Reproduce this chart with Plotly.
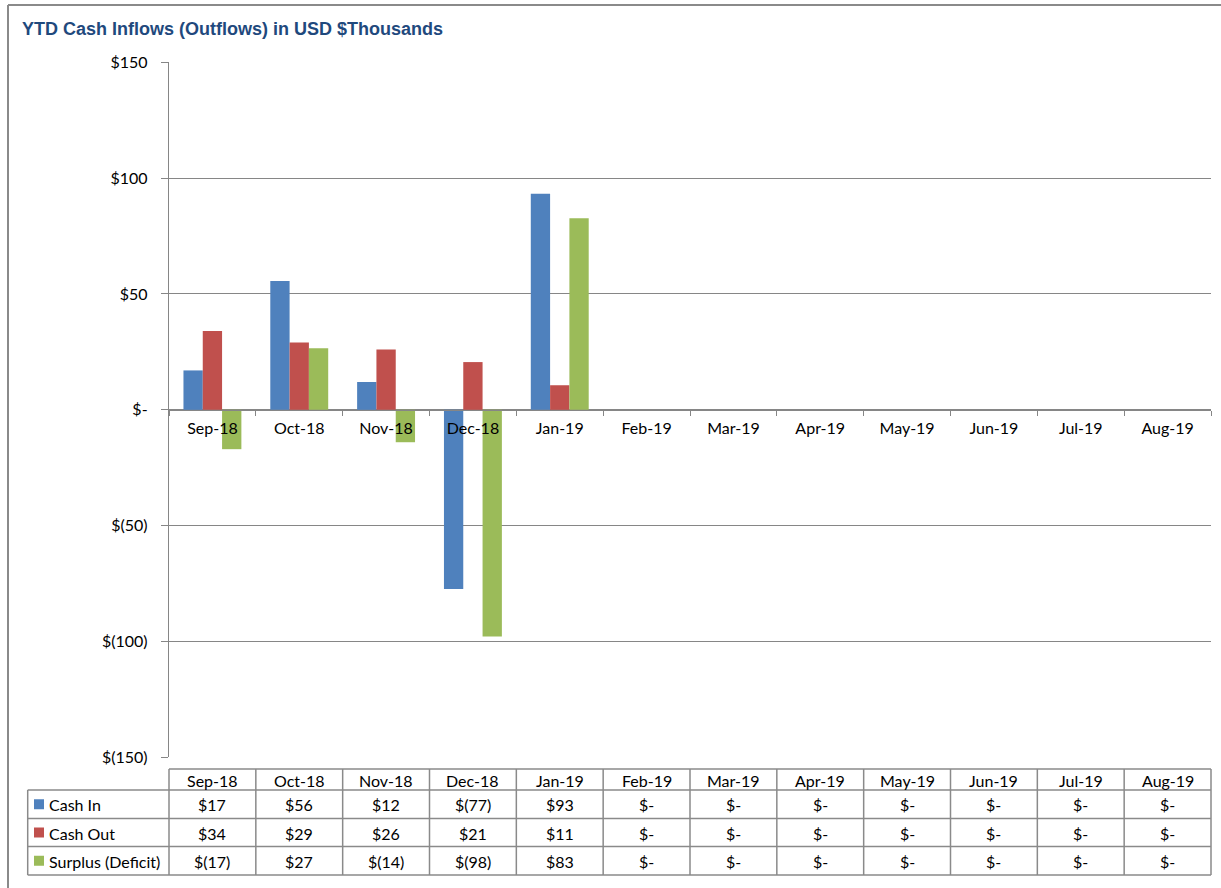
import plotly.graph_objects as go

# ---------------- data ----------------
categories = ["Sep-18", "Oct-18", "Nov-18", "Dec-18", "Jan-19", "Feb-19",
              "Mar-19", "Apr-19", "May-19", "Jun-19", "Jul-19", "Aug-19"]
cash_in = [17, 55.6, 12, -77.3, 93.3, 0, 0, 0, 0, 0, 0, 0]
cash_out = [34, 29, 26, 20.6, 10.6, 0, 0, 0, 0, 0, 0, 0]
surplus = [-17, 26.6, -14, -97.9, 82.7, 0, 0, 0, 0, 0, 0, 0]
series_names = ["Cash In", "Cash Out", "Surplus (Deficit)"]
series_colors = ["#4F81BD", "#C0504D", "#9BBB59"]
y_ticks = [150, 100, 50, 0, -50, -100, -150]
title = "YTD Cash Inflows (Outflows) in USD $Thousands"

W, H = 1221, 888


def px(x):
    return x / W


def py(y):
    return 1 - y / H


def fmt(v):
    r = int(round(v))
    if r == 0:
        return "$-"
    if r < 0:
        return f"$({-r})"
    return f"${r}"


FONT = "Lato"
GRID = "#868686"
BORDER = "#8a8a8a"

plot_left, plot_right = 169, 1211
plot_top, plot_bottom = 62.3, 757.3
zero_y = (plot_top + plot_bottom) / 2

fig = go.Figure()
series = [cash_in, cash_out, surplus]
for name, vals, color in zip(series_names, series, series_colors):
    fig.add_bar(x=categories, y=vals, name=name, marker_color=color,
                marker_line_width=0)

fig.update_layout(
    width=W, height=H,
    margin=dict(l=0, r=0, t=0, b=0, autoexpand=False),
    paper_bgcolor="white", plot_bgcolor="white",
    showlegend=False,
    barmode="group", bargap=0.333, bargroupgap=0,
    font=dict(family=FONT, size=16, color="#000000"),
    xaxis=dict(
        domain=[px(plot_left), px(plot_right)],
        type="category",
        tickson="boundaries",
        ticks="outside", ticklen=5, tickcolor=GRID, tickwidth=1.3,
        showline=True, linecolor=GRID, linewidth=1.3,
        anchor="free", position=py(zero_y),
        showgrid=False, zeroline=False, automargin=False,
        tickfont=dict(family=FONT, size=16, color="#000000"),
        ticklabelstandoff=4,
    ),
    yaxis=dict(
        domain=[py(plot_bottom), py(plot_top)],
        range=[-150, 150],
        tickvals=y_ticks,
        ticktext=[fmt(v) for v in y_ticks],
        showgrid=True, gridcolor=GRID, gridwidth=1.4,
        zeroline=False, automargin=False,
        showline=True, linecolor=GRID, linewidth=1.4,
        ticks="outside", ticklen=7, tickcolor=GRID, tickwidth=1.4,
        tickfont=dict(family=FONT, size=16, color="#000000"),
        ticklabelstandoff=10,
    ),
)

shapes = []
annotations = []

# chart frame (left and top edges)
shapes.append(dict(type="line", xref="paper", yref="paper",
                   x0=px(8), x1=px(W + 5), y0=py(5), y1=py(5),
                   line=dict(color=BORDER, width=2)))
shapes.append(dict(type="line", xref="paper", yref="paper",
                   x0=px(8), x1=px(8), y0=py(5), y1=py(H + 5),
                   line=dict(color=BORDER, width=2)))

# title
annotations.append(dict(text=title, xref="paper", yref="paper",
                        x=px(20), y=py(29), xanchor="left", yanchor="middle",
                        showarrow=False,
                        font=dict(family="Liberation Sans", size=18,
                                  color="#1F497D", weight="bold")))

# ---------------- data table ----------------
n = len(categories)
col_w = (plot_right - plot_left) / n
col_edges = [plot_left + i * col_w for i in range(n + 1)]
head_top, row_lines = 769, [790, 818.5, 846.5, 875]
table_left = 27.7
tline = dict(color=BORDER, width=1.5)

shapes.append(dict(type="line", xref="paper", yref="paper",
                   x0=px(plot_left), x1=px(plot_right),
                   y0=py(head_top), y1=py(head_top), line=tline))
for yl in row_lines:
    shapes.append(dict(type="line", xref="paper", yref="paper",
                       x0=px(table_left), x1=px(plot_right),
                       y0=py(yl), y1=py(yl), line=tline))
shapes.append(dict(type="line", xref="paper", yref="paper",
                   x0=px(table_left), x1=px(table_left),
                   y0=py(row_lines[0]), y1=py(row_lines[-1]), line=tline))
for xe in col_edges:
    shapes.append(dict(type="line", xref="paper", yref="paper",
                       x0=px(xe), x1=px(xe),
                       y0=py(head_top), y1=py(row_lines[-1]), line=tline))

# header
for i, c in enumerate(categories):
    annotations.append(dict(text=c, xref="paper", yref="paper",
                            x=px(col_edges[i] + col_w / 2),
                            y=py((head_top + row_lines[0]) / 2 + 1),
                            xanchor="center", yanchor="middle", showarrow=False,
                            font=dict(family=FONT, size=16, color="#000000")))

# rows
for r, (name, vals, color) in enumerate(zip(series_names, series, series_colors)):
    yc = (row_lines[r] + row_lines[r + 1]) / 2
    shapes.append(dict(type="rect", xref="paper", yref="paper",
                       x0=px(34), x1=px(44), y0=py(yc - 5), y1=py(yc + 5),
                       fillcolor=color, line=dict(width=0)))
    annotations.append(dict(text=name, xref="paper", yref="paper",
                            x=px(47), y=py(yc + 0.5), xanchor="left",
                            yanchor="middle", showarrow=False,
                            font=dict(family=FONT, size=16, color="#000000")))
    for i, v in enumerate(vals):
        annotations.append(dict(text=fmt(v), xref="paper", yref="paper",
                                x=px(col_edges[i] + col_w / 2), y=py(yc + 0.5),
                                xanchor="center", yanchor="middle",
                                showarrow=False,
                                font=dict(family=FONT, size=16, color="#000000")))

fig.update_layout(shapes=shapes, annotations=annotations)
fig.write_html("out.html")
